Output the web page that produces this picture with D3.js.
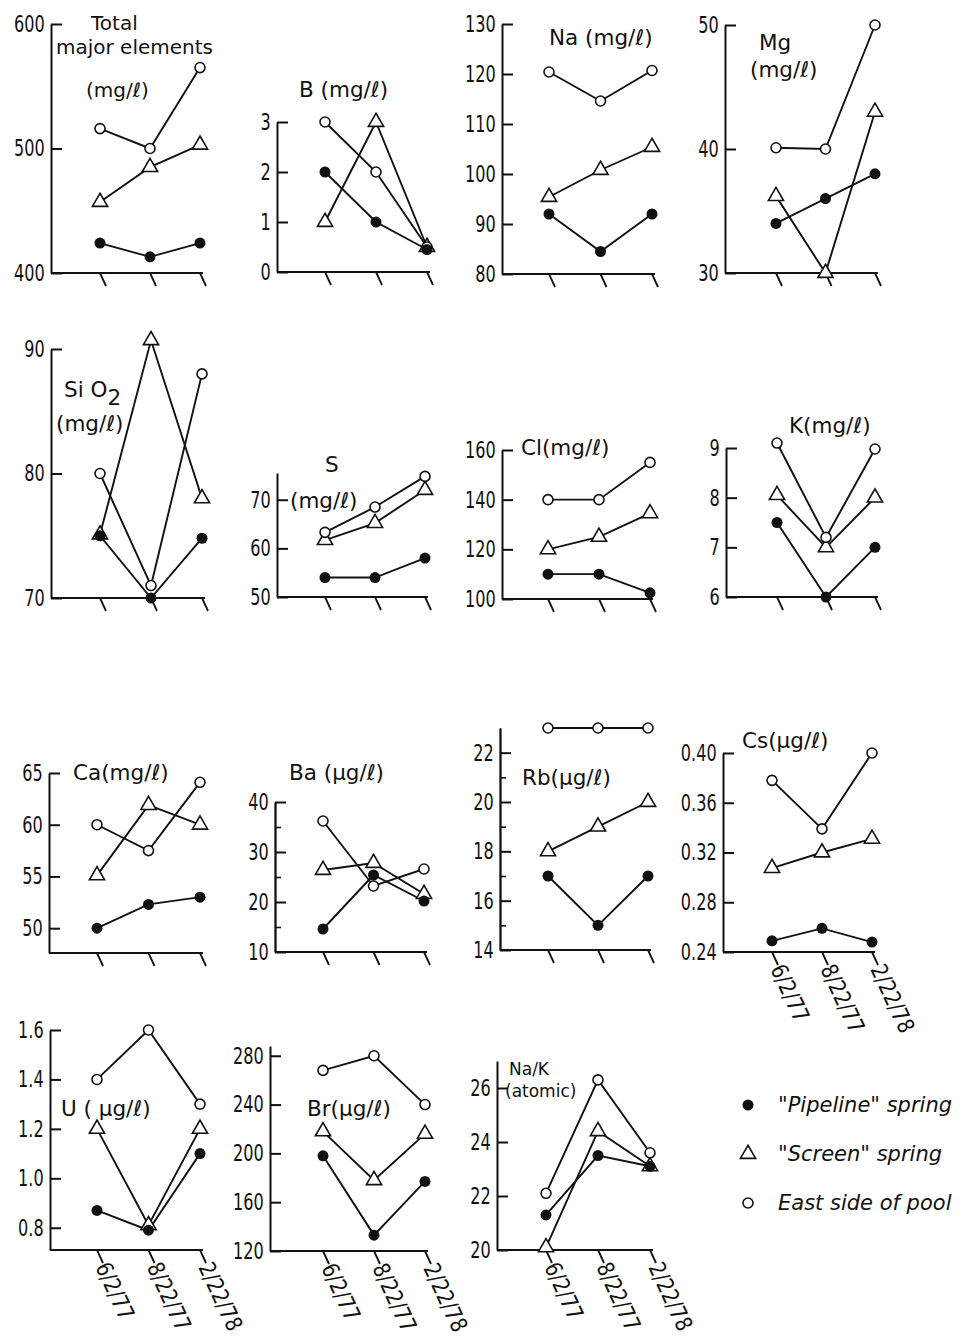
<!DOCTYPE html>
<html>
<head>
<meta charset="utf-8">
<script src="https://cdn.jsdelivr.net/npm/d3@7"></script>
<style>
  body { margin: 0; background: #fff; }
  .tick text, .date { font-family: "DejaVu Sans", sans-serif; font-size: 23px; fill: #111; }
  .title { font-family: "DejaVu Sans", sans-serif; font-size: 21.5px; fill: #111; }
  .legend { font-family: "DejaVu Sans", sans-serif; font-size: 21px; font-style: italic; fill: #111; }
</style>
</head>
<body>
<div id="chart"></div>
<script>
// sampling dates and series (order: pipeline, screen, pool)
const dates = ["6/2/77", "8/22/77", "2/22/78"];
const seriesNames = ['"Pipeline" spring', '"Screen" spring', "East side of pool"];

const totalVals = [[424, 413, 424], [457, 485, 503], [516, 500, 565]];
const totalTicks = [400, 500, 600];
const bVals = [[2, 1, 0.45], [1, 3, 0.5], [3, 2, 0.5]];
const bTicks = [0, 1, 2, 3];
const naVals = [[92, 84.5, 92], [95.4, 100.8, 105.4], [120.4, 114.6, 120.7]];
const naTicks = [80, 90, 100, 110, 120, 130];
const mgVals = [[34, 36, 38], [36.2, 30, 43], [40.1, 40, 50]];
const mgTicks = [30, 40, 50];

const sio2Vals = [[75, 70, 74.8], [75.1, 90.7, 78], [80, 71, 88]];
const sio2Ticks = [70, 80, 90];
const sVals = [[54, 54, 58], [61.7, 65.2, 72], [63.3, 68.5, 74.8]];
const sTicks = [50, 60, 70];
const clVals = [[110, 110, 102.5], [120, 125, 134.5], [140, 140, 155]];
const clTicks = [100, 120, 140, 160];
const kVals = [[7.5, 6, 7], [8.05, 7, 8], [9.1, 7.2, 8.98]];
const kTicks = [6, 7, 8, 9];

const caVals = [[50, 52.3, 53], [55.1, 61.9, 60], [60, 57.5, 64.1]];
const caTicks = [50, 55, 60, 65];
const baVals = [[14.6, 25.4, 20.2], [26.4, 27.8, 21.6], [36.2, 23.2, 26.6]];
const baTicks = [10, 20, 30, 40];
const baMinor = [15, 25, 35];
const rbVals = [[17, 15, 17], [18, 19, 20], [23, 23, 23]];
const rbTicks = [14, 16, 18, 20, 22];
const rbMinor = [15, 17, 19, 21];
const csVals = [[0.249, 0.259, 0.248], [0.3075, 0.32, 0.331], [0.378, 0.339, 0.40]];
const csTicks = [0.24, 0.28, 0.32, 0.36, 0.40];

const uVals = [[0.87, 0.79, 1.1], [1.2, 0.81, 1.2], [1.4, 1.6, 1.3]];
const uTicks = [0.8, 1.0, 1.2, 1.4, 1.6];
const brVals = [[198, 133, 177], [218, 178, 216], [268, 280, 240]];
const brTicks = [120, 160, 200, 240, 280];
const nakVals = [[21.3, 23.5, 23.1], [20.1, 24.4, 23.1], [22.1, 26.3, 23.6]];
const nakTicks = [20, 22, 24, 26];

const f0 = d3.format("d"), f1 = d3.format(".1f"), f2 = d3.format(".2f");

// panel layout
const panels = [
  { vals: totalVals, ticks: totalTicks, fmt: f0, ax: 51, px: [100, 200], dom: [400, 600], py: [273, 24],
    title: [["Total", 91, 30], ["major elements", 56, 54], ["(mg/ℓ)", 86, 97]], fs: 20 },
  { vals: bVals, ticks: bTicks, fmt: f0, ax: 277, px: [325, 427], dom: [0, 3], py: [272, 122],
    title: [["B (mg/ℓ)", 299, 97]] },
  { vals: naVals, ticks: naTicks, fmt: f0, ax: 502, px: [549, 652], dom: [80, 130], py: [274, 24],
    title: [["Na (mg/ℓ)", 549, 45]] },
  { vals: mgVals, ticks: mgTicks, fmt: f0, ax: 725, px: [776, 875], dom: [30, 50], py: [273, 25],
    title: [["Mg", 759, 50], ["(mg/ℓ)", 750, 77]] },

  { vals: sio2Vals, ticks: sio2Ticks, fmt: f0, ax: 51, px: [100, 202], dom: [70, 90], py: [598, 349],
    title: [["Si O<tspan dy='8'>2</tspan>", 64, 397], ["(mg/ℓ)", 56, 431]] },
  { vals: sVals, ticks: sTicks, fmt: f0, ax: 277, px: [325, 425], dom: [50, 75.5], py: [597, 473],
    title: [["S", 325, 472], ["(mg/ℓ)", 290, 508]] },
  { vals: clVals, ticks: clTicks, fmt: f0, ax: 502, px: [548, 650], dom: [100, 160], py: [599, 450],
    title: [["Cl(mg/ℓ)", 521, 455]] },
  { vals: kVals, ticks: kTicks, fmt: f0, ax: 726, px: [777, 875], dom: [6, 9], py: [597, 448],
    title: [["K(mg/ℓ)", 789, 433]] },

  { vals: caVals, ticks: caTicks, fmt: f0, ax: 49, px: [97, 200], dom: [47.6, 65], py: [953, 773],
    title: [["Ca(mg/ℓ)", 73, 780]] },
  { vals: baVals, ticks: baTicks, minor: baMinor, fmt: f0, ax: 275, px: [323, 424], dom: [10, 40], py: [952, 802],
    title: [["Ba (μg/ℓ)", 289, 780]] },
  { vals: rbVals, ticks: rbTicks, minor: rbMinor, fmt: f0, ax: 500, px: [548, 648], dom: [14, 23], py: [950, 728],
    title: [["Rb(μg/ℓ)", 522, 785]] },
  { vals: csVals, ticks: csTicks, fmt: f2, ax: 723, px: [772, 872], dom: [0.24, 0.40], py: [952, 753],
    title: [["Cs(μg/ℓ)", 742, 748]], dates: true },

  { vals: uVals, ticks: uTicks, fmt: f1, ax: 50, px: [97, 200], dom: [0.71, 1.6], py: [1250, 1030],
    title: [["U ( μg/ℓ)", 61, 1116]], dates: true },
  { vals: brVals, ticks: brTicks, fmt: f0, ax: 270, px: [323, 425], dom: [120, 288], py: [1251, 1046],
    title: [["Br(μg/ℓ)", 307, 1116]], dates: true },
  { vals: nakVals, ticks: nakTicks, fmt: f0, ax: 497, px: [546, 650], dom: [20, 27], py: [1250, 1061],
    title: [["Na/K", 509, 1075], ["(atomic)", 505, 1097]], fs: 17, dates: true }
];

const svg = d3.select("#chart").append("svg")
  .attr("width", 969)
  .attr("height", 1338);

const tri = d3.symbol().type(d3.symbolTriangle).size(100);

function marker(sel, k) {
  if (k === 1) {
    sel.append("path").attr("d", tri).attr("fill", "#fff").attr("stroke", "#111").attr("stroke-width", 1.6);
  } else if (k === 2) {
    sel.append("circle").attr("r", 5).attr("fill", "#fff").attr("stroke", "#111").attr("stroke-width", 1.6);
  } else {
    sel.append("circle").attr("r", 5.5).attr("fill", "#111");
  }
}

panels.forEach(p => {
  const y = d3.scaleLinear().domain(p.dom).range(p.py);
  const x = d3.scaleLinear().domain([0, 2]).range(p.px);
  const g = svg.append("g");
  const base = y(p.dom[0]);

  // y axis, ticks pointing inward
  const yAxis = g.append("g")
    .attr("transform", "translate(" + p.ax + ",0)")
    .call(d3.axisLeft(y).tickValues(p.ticks).tickFormat(p.fmt)
      .tickSizeInner(-11).tickSizeOuter(0).tickPadding(9));
  yAxis.selectAll("path, line").attr("stroke", "#111").attr("stroke-width", 2);
  // narrow digits like the original lettering
  yAxis.selectAll(".tick text").attr("transform", "scale(0.7,1)");

  if (p.minor) {
    const m = g.append("g")
      .attr("transform", "translate(" + p.ax + ",0)")
      .call(d3.axisLeft(y).tickValues(p.minor).tickFormat("").tickSizeInner(-6).tickSizeOuter(0));
    m.selectAll("path, line").attr("stroke", "#111").attr("stroke-width", 1.6);
  }

  // x baseline with slanted ticks
  g.append("line")
    .attr("x1", p.ax).attr("x2", x(2) + 3)
    .attr("y1", base).attr("y2", base)
    .attr("stroke", "#111").attr("stroke-width", 2);

  g.selectAll(".xt").data(dates).enter().append("line")
    .attr("x1", (d, i) => x(i)).attr("y1", base)
    .attr("x2", (d, i) => x(i) + 6).attr("y2", base + 13)
    .attr("stroke", "#111").attr("stroke-width", 1.8);

  if (p.dates) {
    g.selectAll(".date").data(dates).enter().append("text")
      .attr("class", "date")
      .attr("transform", (d, i) => "translate(" + (x(i) - 2) + "," + (base + 17) + ")rotate(65)scale(0.82,1)")
      .text(d => d);
  }

  // series lines
  const line = d3.line().x((d, i) => x(i)).y(d => y(d));
  p.vals.forEach(v => {
    g.append("path").datum(v)
      .attr("fill", "none").attr("stroke", "#111").attr("stroke-width", 1.9)
      .attr("d", line);
  });

  // markers: screen, pool, then pipeline on top
  [1, 2, 0].forEach(k => {
    p.vals[k].forEach((d, i) => {
      const s = g.append("g").attr("transform", "translate(" + x(i) + "," + y(d) + ")");
      marker(s, k);
    });
  });

  // titles
  p.title.forEach(t => {
    g.append("text").attr("class", "title")
      .attr("x", t[1]).attr("y", t[2])
      .style("font-size", p.fs ? p.fs + "px" : null)
      .html(t[0]);
  });
});

// legend
const ly = d3.scalePoint().domain(seriesNames).range([1105, 1203]);
[0, 1, 2].forEach(k => {
  const s = svg.append("g").attr("transform", "translate(748," + ly(seriesNames[k]) + ")");
  marker(s, k);
  svg.append("text").attr("class", "legend")
    .attr("x", 778).attr("y", ly(seriesNames[k]) + 7)
    .text(seriesNames[k]);
});
</script>
</body>
</html>
